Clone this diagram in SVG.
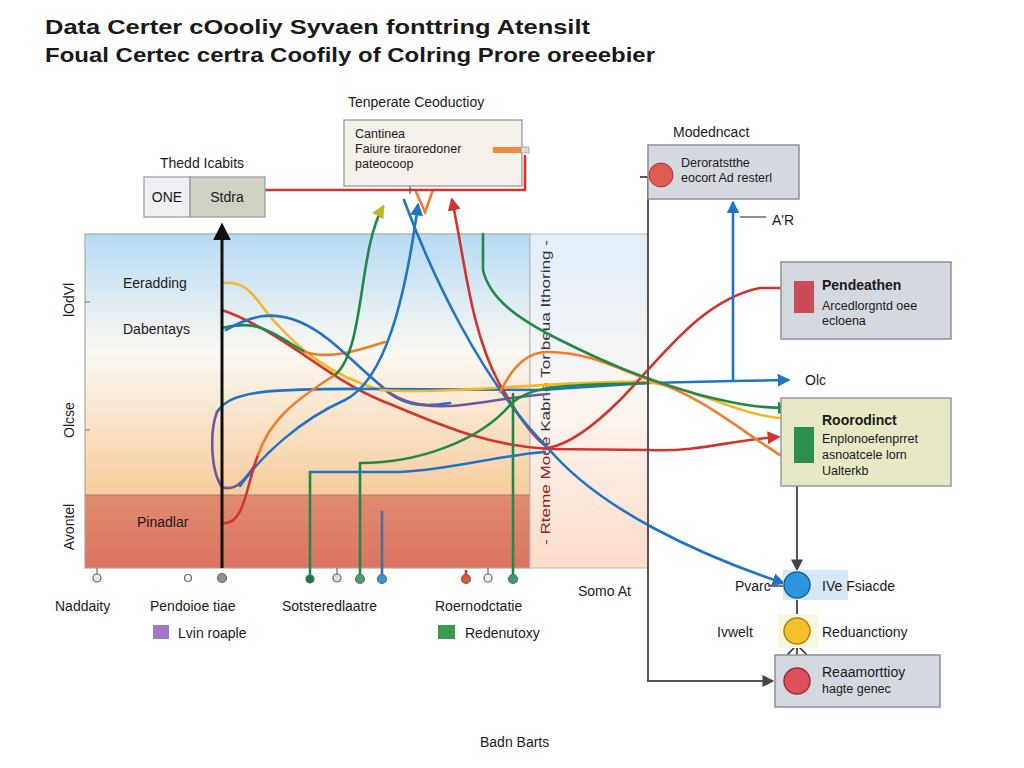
<svg xmlns="http://www.w3.org/2000/svg" width="1024" height="768" viewBox="0 0 1024 768">
<style>
text{font-family:"Liberation Sans",Arial,sans-serif;fill:#1a1a1a}
.t{font-size:21px;font-weight:bold}
.l{font-size:14px}
.s{font-size:12.5px}
.b{font-weight:bold}
.c{fill:none;stroke-width:2.6;stroke-linecap:round}
.bl{stroke:#1f74c6}.gr{stroke:#1f8a47}.rd{stroke:#d2332a}.or{stroke:#f07c2c}.ye{stroke:#f3b824}.pu{stroke:#6a5a9c}
.box{fill:#d4d8df;stroke:#8d9098;stroke-width:1.5}
.gl{fill:none;stroke:#555;stroke-width:2}
.dot{stroke:#666;stroke-width:1.2}
</style>
<defs>
<linearGradient id="gL" x1="0" y1="0" x2="0" y2="1">
<stop offset="0" stop-color="#b7dbf6"/><stop offset="0.45" stop-color="#fbf8f2"/><stop offset="1" stop-color="#f8cc9c"/>
</linearGradient>
<linearGradient id="gR" x1="0" y1="0" x2="0" y2="1">
<stop offset="0" stop-color="#e1eefa"/><stop offset="0.5" stop-color="#fbf6f2"/><stop offset="1" stop-color="#fcdcca"/>
</linearGradient>
<linearGradient id="gB" x1="0" y1="0" x2="0" y2="1">
<stop offset="0" stop-color="#e18b71"/><stop offset="1" stop-color="#dc7360"/>
</linearGradient>
<marker id="aB" viewBox="0 0 10 10" refX="8" refY="5" markerWidth="5" markerHeight="5" orient="auto"><path d="M0,0 L10,5 L0,10 z" fill="#1f74c6"/></marker>
<marker id="aG" viewBox="0 0 10 10" refX="8" refY="5" markerWidth="5" markerHeight="5" orient="auto"><path d="M0,0 L10,5 L0,10 z" fill="#1f8a47"/></marker>
<marker id="aR" viewBox="0 0 10 10" refX="8" refY="5" markerWidth="5" markerHeight="5" orient="auto"><path d="M0,0 L10,5 L0,10 z" fill="#d2332a"/></marker>
<marker id="aY" viewBox="0 0 10 10" refX="8" refY="5" markerWidth="5" markerHeight="5" orient="auto"><path d="M0,0 L10,5 L0,10 z" fill="#b8b824"/></marker>
<marker id="aK" viewBox="0 0 10 10" refX="8" refY="5" markerWidth="6" markerHeight="6" orient="auto"><path d="M0,0 L10,5 L0,10 z" fill="#111"/></marker>
<marker id="aD" viewBox="0 0 10 10" refX="8" refY="5" markerWidth="6" markerHeight="6" orient="auto"><path d="M0,0 L10,5 L0,10 z" fill="#444"/></marker>
</defs>
<rect width="1024" height="768" fill="#fff"/>

<g id="title">
<text class="t" x="45" y="34" textLength="545" lengthAdjust="spacingAndGlyphs">Data Certer cOooliy  Syvaen fonttring  Atensilt</text>
<text class="t" x="45" y="62" textLength="610" lengthAdjust="spacingAndGlyphs">Foual Certec certra Coofily of Colring Prore oreeebier</text>
</g>

<g id="chart">
<rect x="85" y="234" width="445" height="262" fill="url(#gL)"/>
<rect x="85" y="495" width="445" height="73" fill="url(#gB)"/>
<rect x="85" y="234" width="445" height="334" fill="none" stroke="#a9a894" stroke-width="1.2"/>
<line x1="85" y1="495" x2="530" y2="495" stroke="#a08070" stroke-width="1"/>
<rect x="530" y="234" width="118" height="334" fill="url(#gR)" stroke="#bbb" stroke-width="1"/>
<line x1="85" y1="302" x2="90" y2="302" stroke="#777"/>
<line x1="85" y1="430" x2="90" y2="430" stroke="#777"/>
<text class="l" transform="translate(74,300) rotate(-90)" text-anchor="middle">lOdVl</text>
<text class="l" transform="translate(74,420) rotate(-90)" text-anchor="middle">Olcse</text>
<text class="l" transform="translate(74,527) rotate(-90)" text-anchor="middle">Avontel</text>
<text class="l" x="123" y="288">Eeradding</text>
<text class="l" x="123" y="334">Dabentays</text>
<text class="l" x="137" y="527">Pinadlar</text>
<text class="s" transform="translate(550,545) rotate(-90)" textLength="305" lengthAdjust="spacingAndGlyphs"><tspan fill="#8a2020">- Rteme Mode </tspan><tspan fill="#333">Kabne Toribeua Ithoring -</tspan></text>
</g>

<g id="connectors">
<path class="c rd" d="M222,310 C280,330 330,380 380,400 C430,420 480,445 548,449 L650,450 C700,452 730,440 778,437" marker-end="url(#aR)"/>
<path class="c ye" d="M222,283 C250,280 255,300 275,322 C300,350 330,375 380,390"/>
<path class="c gr" d="M222,328 C260,318 275,335 305,352"/>
<path class="c or" d="M305,352 C330,360 360,350 385,342"/>
<path class="c bl" d="M226,330 C250,316 272,310 300,322 C330,335 350,360 380,385 C400,405 420,408 450,403"/>
<path class="c pu" d="M380,385 C400,405 430,410 470,404 C500,400 520,396 548,394"/>
<path class="c bl" d="M217,412 C230,392 260,388 380,389 L540,390 L648,383 L733,381 L788,380" marker-end="url(#aB)"/>
<path class="c ye" d="M380,390 C450,395 560,380 648,382 C700,390 740,415 780,418"/>
<path class="c pu" d="M217,412 C210,430 210,470 222,487 C235,492 245,480 255,465"/>
<path class="c bl" d="M240,486 C262,455 300,420 345,400 C385,380 405,300 418,205" marker-end="url(#aB)"/>
<path class="c rd" d="M222,523 C245,526 246,485 258,455"/>
<path class="c or" d="M258,455 C270,420 295,400 335,375"/>
<path class="c gr" d="M335,375 C365,350 358,250 383,207" marker-end="url(#aY)"/>
<polyline class="c or" points="416,192 425,212 433,190"/>
<path class="c rd" d="M500,385 C470,330 465,260 452,200" marker-end="url(#aR)"/>
<path class="c rd" d="M500,385 C515,410 530,435 548,448"/>
<path class="c bl" d="M404,200 C430,270 480,380 548,448 C600,510 700,555 783,583" marker-end="url(#aB)"/>
<path class="c rd" d="M781,288 L760,288 C700,300 660,360 620,400 C590,430 565,445 548,448"/>
<path class="c or" d="M500,392 C515,362 530,352 548,352 C590,352 620,370 650,380 C700,395 740,430 780,455"/>
<path class="c gr" d="M483,234 L483,270 C490,300 520,320 560,340 C600,360 640,378 700,395 C740,405 760,408 788,408" marker-end="url(#aG)"/>
<path class="c gr" d="M360,578 L360,463 C420,463 480,440 510,405 C530,385 560,385 648,383"/>
<path class="c gr" d="M513,578 L513,394"/>
<path class="c gr" d="M310,578 L310,472"/>
<path class="c bl" d="M310,472 L400,472 C450,470 500,455 545,452"/>
<line class="c" x1="382" y1="578" x2="382" y2="512" stroke="#4a6d9a" stroke-width="2.4"/>
<line class="c" x1="466" y1="578" x2="466" y2="571" stroke="#d2332a"/>
<path class="c rd" d="M265,190 L525,190 L525,156"/>
<line x1="410" y1="186" x2="410" y2="194" stroke="#555" stroke-width="1.2"/>
<line x1="222" y1="568" x2="222" y2="226" stroke="#111" stroke-width="3" marker-end="url(#aK)"/>
<path class="c bl" d="M733,381 L733,203" marker-end="url(#aB)"/>
<line x1="740" y1="217" x2="766" y2="217" stroke="#666" stroke-width="1.5"/>
<path class="gl" d="M640,177 L648,177 L648,681 L772,681" marker-end="url(#aD)"/>
<path class="gl" d="M797,486 L797,569" marker-end="url(#aD)"/>
<line class="gl" x1="797" y1="598" x2="797" y2="618"/>
<line class="gl" x1="797" y1="644" x2="797" y2="668"/>
<polyline points="787,655 797,645 807,655" fill="none" stroke="#333" stroke-width="1.6"/>
<line x1="768" y1="586" x2="784" y2="586" stroke="#444" stroke-width="1.5"/>
</g>

<g id="node-strong">
<text class="l" x="160" y="168">Thedd Icabits</text>
<rect x="144" y="177" width="46" height="40" fill="#eef0f3" stroke="#999" stroke-width="1.2"/>
<rect x="190" y="177" width="75" height="40" fill="#cfd2c3" stroke="#999" stroke-width="1.2"/>
<text class="l" x="167" y="202" text-anchor="middle">ONE</text>
<text class="l" x="227" y="202" text-anchor="middle">Stdra</text>
</g>

<g id="node-temperate">
<text class="l" x="348" y="107">Tenperate Ceoductioy</text>
<rect x="344" y="120" width="178" height="66" fill="#f6f0eb" stroke="#9a9a9a" stroke-width="1.3"/>
<text class="s" x="355" y="138">Cantinea</text>
<text class="s" x="355" y="153">Faiure tiraoredoner</text>
<text class="s" x="355" y="168">pateocoop</text>
<rect x="493" y="147" width="28" height="6" fill="#f08a3a"/>
<rect x="521" y="147" width="8" height="6" fill="#ddd" stroke="#999" stroke-width="0.8"/>
</g>

<g id="node-model">
<text class="l" x="673" y="137">Modedncact</text>
<rect x="648" y="145" width="151" height="54" class="box"/>
<circle cx="661" cy="175" r="12" fill="#e05a52" stroke="#a33" stroke-width="1"/>
<text class="s" x="681" y="167">Deroratstthe</text>
<text class="s" x="681" y="182">eocort Ad resterl</text>
<text class="l" x="772" y="225">A'R</text>
</g>

<g id="node-pend">
<rect x="781" y="262" width="170" height="77" class="box"/>
<rect x="794" y="281" width="20" height="32" fill="#cc4a5a"/>
<text class="l b" x="822" y="290">Pendeathen</text>
<text class="s" x="822" y="310">Arcedlorgntd  oee</text>
<text class="s" x="822" y="325">ecloena</text>
</g>

<text class="l" x="805" y="385">Olc</text>

<g id="node-roor">
<rect x="781" y="398" width="170" height="88" fill="#e6e8c6" stroke="#999" stroke-width="1.5"/>
<rect x="794" y="427" width="20" height="36" fill="#2a9050"/>
<text class="l b" x="822" y="425">Roorodinct</text>
<text class="s" x="822" y="443">Enplonoefenprret</text>
<text class="s" x="822" y="459">asnoatcele lorn</text>
<text class="s" x="822" y="475">Ualterkb</text>
</g>

<g id="node-blue">
<rect x="783" y="570" width="65" height="30" fill="#d5e8f7"/>
<circle cx="797" cy="585" r="13" fill="#2e96de" stroke="#1d5f9a" stroke-width="1.5"/>
<text class="l" x="735" y="591">Pvarc</text>
<text class="l" x="822" y="591">IVe Fsiacde</text>
</g>

<g id="node-yellow">
<rect x="778" y="614" width="40" height="34" fill="#fbf6dc"/>
<circle cx="797" cy="631" r="13" fill="#f6c02c" stroke="#a8841a" stroke-width="1.5"/>
<text class="l" x="717" y="637">Ivwelt</text>
<text class="l" x="822" y="637">Reduanctiony</text>
</g>

<g id="node-reaam">
<rect x="775" y="655" width="165" height="52" class="box"/>
<circle cx="797" cy="681" r="13" fill="#e0505a" stroke="#9a3038" stroke-width="1.5"/>
<text class="l" x="822" y="677">Reaamorttioy</text>
<text class="s" x="822" y="693">hagte genec</text>
</g>

<g id="axis">
<g class="dot">
<line x1="97" y1="568" x2="97" y2="574"/><circle cx="97" cy="578" r="4" fill="#e8e8e8"/>
<circle cx="188" cy="578" r="3.5" fill="#fff"/>
<circle cx="222" cy="578" r="4.5" fill="#8e949b"/>
<circle cx="310" cy="579" r="4" fill="#1f7a40"/>
<line x1="337" y1="568" x2="337" y2="574"/><circle cx="337" cy="578" r="4" fill="#ddd"/>
<circle cx="360" cy="579" r="4.5" fill="#46a070"/>
<circle cx="382" cy="579" r="4.5" fill="#2b9ad8"/>
<circle cx="466" cy="579" r="4.5" fill="#e2582c"/>
<line x1="488" y1="568" x2="488" y2="574"/><circle cx="488" cy="578" r="4" fill="#eee"/>
<circle cx="513" cy="579" r="4.5" fill="#3a9a70"/>
</g>
<text class="l" x="55" y="611">Naddaity</text>
<text class="l" x="150" y="611">Pendoioe tiae</text>
<text class="l" x="282" y="611">Sotsteredlaatre</text>
<text class="l" x="435" y="611">Roernodctatie</text>
<text class="l" x="578" y="596">Somo At</text>
<rect x="153" y="625" width="16" height="14" fill="#9f78cc"/>
<text class="l" x="178" y="638">Lvin roaple</text>
<rect x="438" y="625" width="17" height="14" fill="#3a9a50"/>
<text class="l" x="465" y="638">Redenutoxy</text>
<text class="l" x="480" y="747">Badn Barts</text>
</g>
</svg>
